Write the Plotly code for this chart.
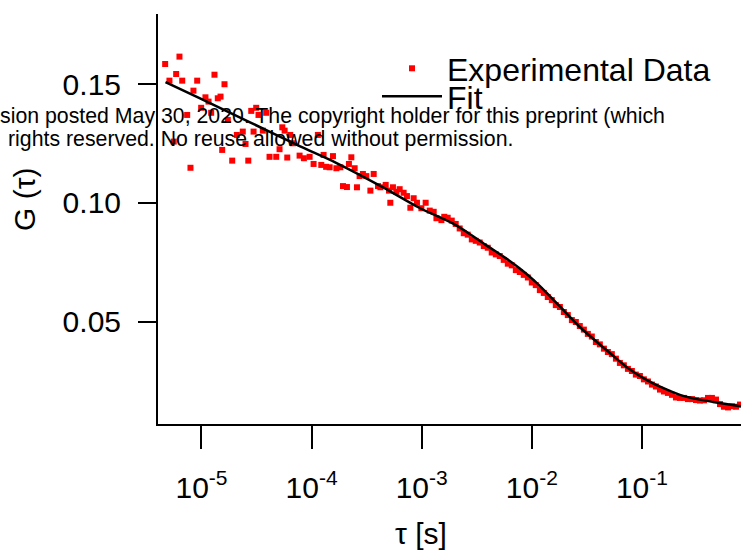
import numpy as np
import plotly.graph_objects as go

# ---- data (log10 of tau in s, G(tau)) ----
exp_log_tau = [
    -5.330, -5.291, -5.252, -5.230, -5.200, -5.175, -5.130, -5.100, -5.073, -5.039,
    -5.003, -4.964, -4.936, -4.912, -4.882, -4.852, -4.827, -4.812, -4.791, -4.761,
    -4.721, -4.679, -4.625, -4.600, -4.575, -4.548, -4.527, -4.503, -4.482, -4.443,
    -4.412, -4.382, -4.321, -4.291, -4.266, -4.245, -4.221, -4.194, -4.170, -4.109,
    -4.070, -4.018, -3.982, -3.943, -3.912, -3.891, -3.868, -3.836, -3.806, -3.775,
    -3.739, -3.715, -3.679, -3.661, -3.639, -3.609, -3.588, -3.564, -3.534, -3.503,
    -3.466, -3.436, -3.397, -3.375, -3.327, -3.297, -3.285, -3.261, -3.230, -3.200,
    -3.164, -3.134, -3.103, -3.073, -3.043, -3.003, -2.964, -2.927, -2.891, -2.866,
    -2.821, -2.795,
    -2.764, -2.727, -2.691, -2.655, -2.618, -2.582, -2.545, -2.509, -2.473, -2.436,
    -2.400, -2.364, -2.327, -2.291, -2.255, -2.218, -2.182, -2.145, -2.109, -2.073,
    -2.036, -2.000, -1.964, -1.927, -1.891, -1.855, -1.818, -1.782, -1.745, -1.709,
    -1.673, -1.636, -1.600, -1.564, -1.527, -1.491, -1.455, -1.418, -1.382, -1.345,
    -1.309, -1.273, -1.236, -1.200, -1.164, -1.127, -1.091, -1.055, -1.018, -0.982,
    -0.945, -0.909, -0.873, -0.836, -0.800, -0.764, -0.727, -0.691, -0.655, -0.618,
    -0.582, -0.545, -0.509, -0.473, -0.436, -0.400, -0.364, -0.327, -0.291, -0.255,
    -0.218, -0.182, -0.145, -0.109,
]
exp_G = [
    0.1584, 0.1514, 0.1258, 0.1542, 0.1615, 0.1514, 0.1370, 0.1148, 0.1472, 0.1514,
    0.1400, 0.1444, 0.1426, 0.1379, 0.1539, 0.1440, 0.1447, 0.1223, 0.1499, 0.1349,
    0.1178, 0.1286, 0.1300, 0.1248, 0.1178, 0.1387, 0.1300, 0.1400, 0.1370, 0.1304,
    0.1379, 0.1194, 0.1194, 0.1226, 0.1318, 0.1304, 0.1191, 0.1286, 0.1251, 0.1199,
    0.1188, 0.1194, 0.1164, 0.1286, 0.1160, 0.1202, 0.1152, 0.1150, 0.1197, 0.1146,
    0.1150, 0.1071, 0.1067, 0.1164, 0.1192, 0.1146, 0.1066, 0.1113, 0.1122, 0.1113,
    0.1052, 0.1122, 0.1071, 0.1066, 0.1076, 0.1052, 0.1001, 0.1066, 0.1047, 0.1058,
    0.1043, 0.1029, 0.0980, 0.1020, 0.1001, 0.0978, 0.1001, 0.0968, 0.0963, 0.0936,
    0.0928, 0.0942,
    0.0938, 0.0926, 0.0912, 0.0893, 0.0873, 0.0867, 0.0847, 0.0841, 0.0834, 0.0819,
    0.0812, 0.0792, 0.0784, 0.0777, 0.0761, 0.0745, 0.0738, 0.0718, 0.0710, 0.0698,
    0.0687, 0.0666, 0.0655, 0.0634, 0.0622, 0.0605, 0.0592, 0.0571, 0.0563, 0.0542,
    0.0529, 0.0508, 0.0500, 0.0483, 0.0468, 0.0450, 0.0439, 0.0416, 0.0406, 0.0388,
    0.0374, 0.0365, 0.0346, 0.0328, 0.0318, 0.0303, 0.0294, 0.0279, 0.0273, 0.0259,
    0.0250, 0.0237, 0.0229, 0.0216, 0.0208, 0.0202, 0.0194, 0.0183, 0.0181, 0.0181,
    0.0176, 0.0176, 0.0172, 0.0170, 0.0171, 0.0181, 0.0181, 0.0174, 0.0155, 0.0144,
    0.0141, 0.0146, 0.0144, 0.0153,
]

fit_log_tau = [-5.327, -5.018, -4.564, -4.109, -3.773, -3.355, -3.018, -2.718, -2.564,
               -2.409, -2.245, -2.109, -1.973, -1.836, -1.700, -1.564, -1.409, -1.264,
               -1.109, -0.955, -0.809, -0.655, -0.500, -0.355, -0.136, -0.100]
fit_G = [0.1508, 0.1441, 0.1340, 0.1239, 0.1168, 0.1067, 0.0979, 0.0914, 0.0870,
         0.0821, 0.0771, 0.0725, 0.0672, 0.0609, 0.0544, 0.0479, 0.0416, 0.0359,
         0.0300, 0.0256, 0.0223, 0.0194, 0.0176, 0.0164, 0.0148, 0.0146]

x_tick_vals = [1e-5, 1e-4, 1e-3, 1e-2, 1e-1]
x_tick_text = ["10<sup>-5</sup>", "10<sup>-4</sup>", "10<sup>-3</sup>",
               "10<sup>-2</sup>", "10<sup>-1</sup>"]
y_tick_vals = [0.05, 0.10, 0.15]
y_tick_text = ["0.05", "0.10", "0.15"]

FONT = "Liberation Sans, Arial, Helvetica, sans-serif"

exp_tau = [10 ** v for v in exp_log_tau]
fit_tau = [10 ** v for v in fit_log_tau]

fig = go.Figure()
fig.add_trace(go.Scatter(
    x=exp_tau, y=exp_G, mode="markers", name="Experimental Data",
    marker=dict(symbol="square", size=6, color="#ff0000", line=dict(width=0)),
    legend="legend",
))
fig.add_trace(go.Scatter(
    x=fit_tau, y=fit_G, mode="lines", name="Fit",
    line=dict(color="black", width=2.5, shape="spline", smoothing=0.7),
    legend="legend2",
))

L, R, T, B = 158, 0, 14, 126
W, H = 741, 550
pw, ph = W - L - R, H - T - B

def px_x(p):
    return (p - L) / pw

def px_y(p):
    return (H - B - p) / ph

fig.update_layout(
    width=W, height=H,
    margin=dict(l=L, r=R, t=T, b=B, pad=0),
    paper_bgcolor="white", plot_bgcolor="white",
    font=dict(family=FONT, size=30, color="black"),
    showlegend=True,
    legend=dict(x=px_x(377), y=px_y(41), xanchor="left", yanchor="top",
                bgcolor="rgba(0,0,0,0)", font=dict(size=32), itemwidth=60),
    legend2=dict(x=px_x(377), y=px_y(69), xanchor="left", yanchor="top",
                 bgcolor="rgba(0,0,0,0)", font=dict(size=32), itemwidth=60),
    xaxis=dict(
        type="log", range=[-5.395, -0.1],
        showline=True, linecolor="black", linewidth=2, mirror=False,
        ticks="outside", ticklen=23, tickwidth=2, tickcolor="black",
        tickvals=x_tick_vals, ticktext=x_tick_text,
        showgrid=False, zeroline=False, ticklabelstandoff=13,
        tickfont=dict(size=30),
    ),
    yaxis=dict(
        range=[0.00714, 0.17941],
        showline=True, linecolor="black", linewidth=2, mirror=False,
        ticks="outside", ticklen=18, tickwidth=2, tickcolor="black",
        tickvals=y_tick_vals, ticktext=y_tick_text,
        showgrid=False, zeroline=False, ticklabelstandoff=11,
        tickfont=dict(size=30),
    ),
)

annos = [
    dict(text="τ [s]", x=px_x(421), y=px_y(533), font=dict(size=30),
         xanchor="center", yanchor="middle"),
    dict(text="G (τ)", x=px_x(25), y=px_y(199), font=dict(size=30),
         textangle=-90, xanchor="center", yanchor="middle"),
    dict(text="sion posted May 30, 2020. The copyright holder for this preprint (which",
         x=px_x(-2), y=px_y(116), font=dict(size=21.3), xanchor="left", yanchor="middle"),
    dict(text="rights reserved. No reuse allowed without permission.",
         x=px_x(6), y=px_y(139), font=dict(size=21.3), xanchor="left", yanchor="middle"),
]
for a in annos:
    fig.add_annotation(xref="paper", yref="paper", showarrow=False, **a)

fig.write_html("out.html")
